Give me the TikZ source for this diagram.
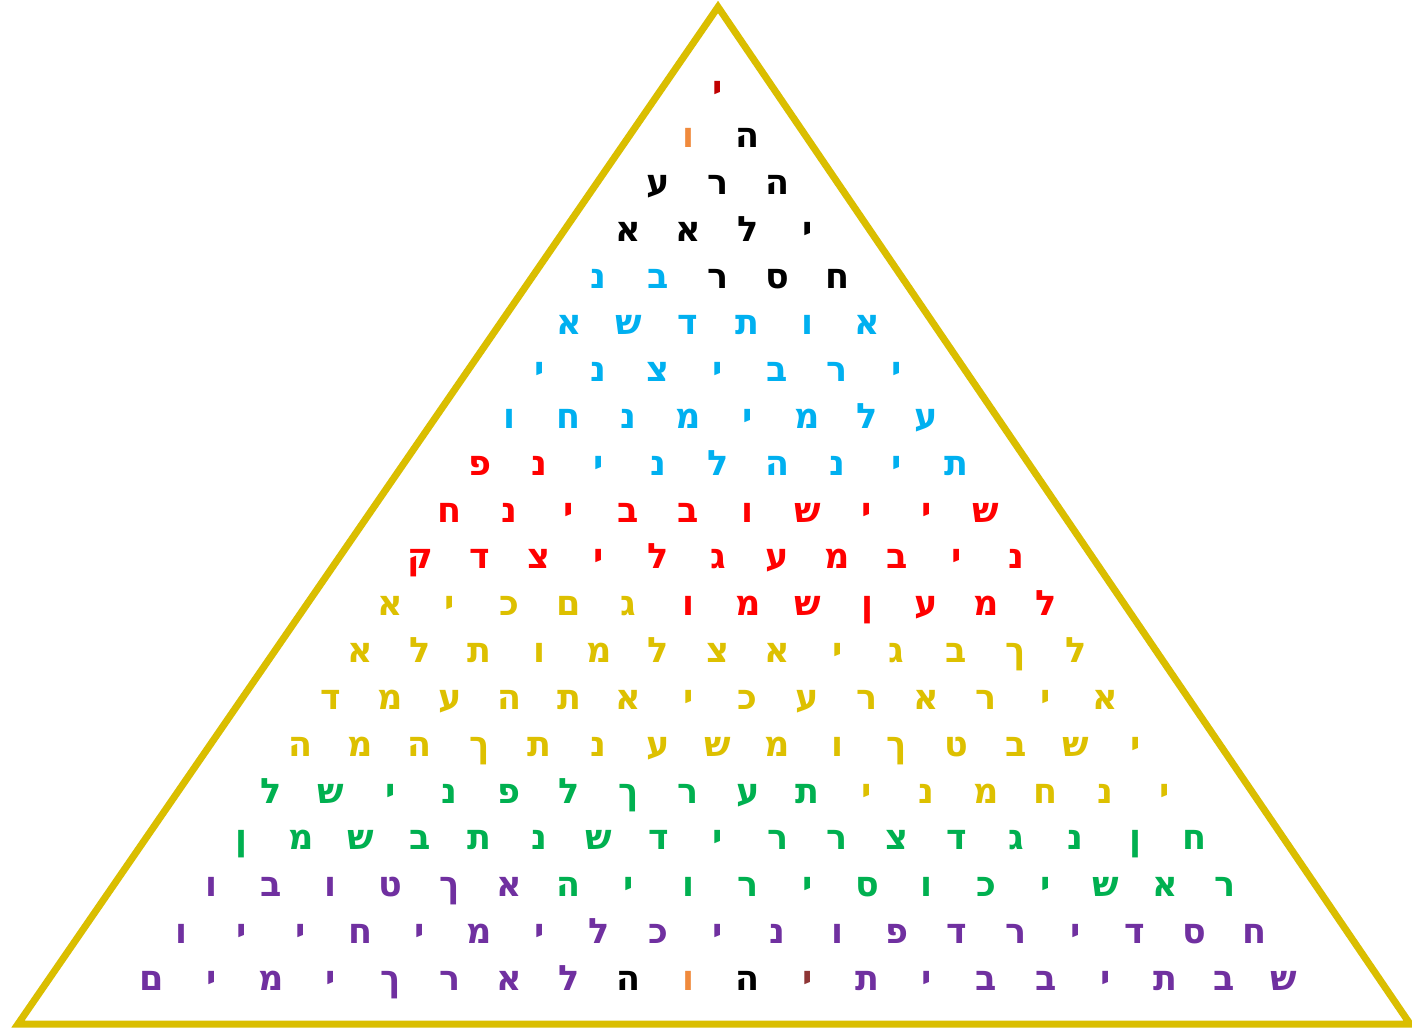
\documentclass[tikz,border=0pt]{standalone}
\usepackage{fontspec}
\newfontfamily\heb[Script=Hebrew]{DejaVu Sans Bold}
\definecolor{tri}{HTML}{DABE00}
\definecolor{hr}{HTML}{C00000}
\definecolor{hk}{HTML}{000000}
\definecolor{ho}{HTML}{F08A3C}
\definecolor{hc}{HTML}{00B0F0}
\definecolor{hd}{HTML}{FF0000}
\definecolor{hy}{HTML}{DDC000}
\definecolor{hg}{HTML}{00B050}
\definecolor{hp}{HTML}{7030A0}
\definecolor{hb}{HTML}{8E3535}
\tikzset{hl/.style={font=\heb\fontsize{35}{35}\selectfont, anchor=base, inner sep=0pt},
  triline/.style={draw=tri, line width=7, line join=miter}}
\newcommand\hrow[2]{\foreach \ltr/\clr [count=\k from 0] in {#2} {\node[hl,text=\clr] (l#1-\k) at ({718+((#1-1)/2-\k)*59.6},{927-(#1-1)*46.8}) {\ltr};}}
\begin{document}
\begin{tikzpicture}[x=1pt,y=1pt]
\useasboundingbox (0,0) rectangle (1412,1028);
\fill[white] (0,0) rectangle (1412,1028);
\coordinate (apex) at (718,1021);
\coordinate (bl) at (18,4);
\coordinate (br) at (1410,4);
\draw[triline] (apex) -- (bl) -- (br) -- cycle;
\hrow{1}{י/hr}
\hrow{2}{ה/hk,ו/ho}
\hrow{3}{ה/hk,ר/hk,ע/hk}
\hrow{4}{י/hk,ל/hk,א/hk,א/hk}
\hrow{5}{ח/hk,ס/hk,ר/hk,ב/hc,נ/hc}
\hrow{6}{א/hc,ו/hc,ת/hc,ד/hc,ש/hc,א/hc}
\hrow{7}{י/hc,ר/hc,ב/hc,י/hc,צ/hc,נ/hc,י/hc}
\hrow{8}{ע/hc,ל/hc,מ/hc,י/hc,מ/hc,נ/hc,ח/hc,ו/hc}
\hrow{9}{ת/hc,י/hc,נ/hc,ה/hc,ל/hc,נ/hc,י/hc,נ/hd,פ/hd}
\hrow{10}{ש/hd,י/hd,י/hd,ש/hd,ו/hd,ב/hd,ב/hd,י/hd,נ/hd,ח/hd}
\hrow{11}{נ/hd,י/hd,ב/hd,מ/hd,ע/hd,ג/hd,ל/hd,י/hd,צ/hd,ד/hd,ק/hd}
\hrow{12}{ל/hd,מ/hd,ע/hd,ן/hd,ש/hd,מ/hd,ו/hd,ג/hy,ם/hy,כ/hy,י/hy,א/hy}
\hrow{13}{ל/hy,ך/hy,ב/hy,ג/hy,י/hy,א/hy,צ/hy,ל/hy,מ/hy,ו/hy,ת/hy,ל/hy,א/hy}
\hrow{14}{א/hy,י/hy,ר/hy,א/hy,ר/hy,ע/hy,כ/hy,י/hy,א/hy,ת/hy,ה/hy,ע/hy,מ/hy,ד/hy}
\hrow{15}{י/hy,ש/hy,ב/hy,ט/hy,ך/hy,ו/hy,מ/hy,ש/hy,ע/hy,נ/hy,ת/hy,ך/hy,ה/hy,מ/hy,ה/hy}
\hrow{16}{י/hy,נ/hy,ח/hy,מ/hy,נ/hy,י/hy,ת/hg,ע/hg,ר/hg,ך/hg,ל/hg,פ/hg,נ/hg,י/hg,ש/hg,ל/hg}
\hrow{17}{ח/hg,ן/hg,נ/hg,ג/hg,ד/hg,צ/hg,ר/hg,ר/hg,י/hg,ד/hg,ש/hg,נ/hg,ת/hg,ב/hg,ש/hg,מ/hg,ן/hg}
\hrow{18}{ר/hg,א/hg,ש/hg,י/hg,כ/hg,ו/hg,ס/hg,י/hg,ר/hg,ו/hg,י/hg,ה/hg,א/hp,ך/hp,ט/hp,ו/hp,ב/hp,ו/hp}
\hrow{19}{ח/hp,ס/hp,ד/hp,י/hp,ר/hp,ד/hp,פ/hp,ו/hp,נ/hp,י/hp,כ/hp,ל/hp,י/hp,מ/hp,י/hp,ח/hp,י/hp,י/hp,ו/hp}
\hrow{20}{ש/hp,ב/hp,ת/hp,י/hp,ב/hp,ב/hp,י/hp,ת/hp,י/hb,ה/hk,ו/ho,ה/hk,ל/hp,א/hp,ר/hp,ך/hp,י/hp,מ/hp,י/hp,ם/hp}
\end{tikzpicture}
\end{document}
